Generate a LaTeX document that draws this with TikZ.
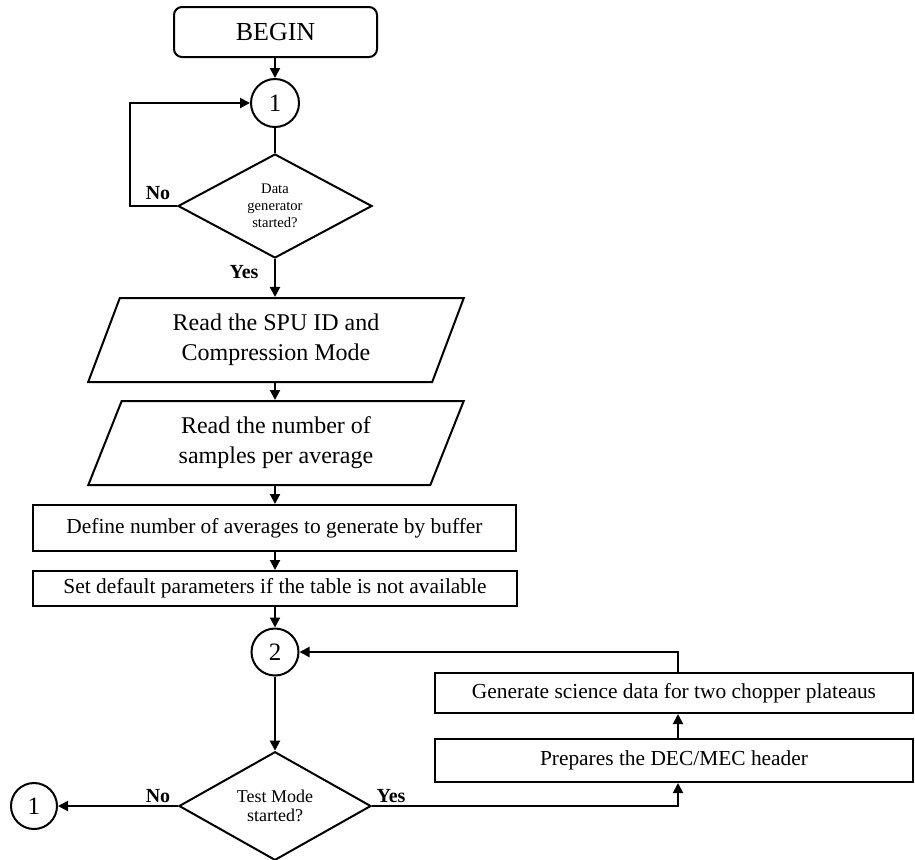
\documentclass[tikz,border=0pt]{standalone}
\usepackage{fontspec}
\setmainfont{Liberation Serif}
\usetikzlibrary{shapes.geometric,arrows.meta,calc}
\begin{document}
\begin{tikzpicture}[x=0.5pt,y=-0.5pt, line width=1pt,
  >={Triangle[length=5pt,width=5pt]},
  procbox/.style={draw, rectangle, inner sep=0pt, align=center, font=\fontsize{10.7}{13}\selectfont},
  iobox/.style={draw, trapezium, trapezium left angle=68, trapezium right angle=112, trapezium stretches=true,
     minimum width=188pt, minimum height=42pt, inner sep=0pt, align=center, font=\fontsize{12}{15}\selectfont},
  decision/.style={draw, diamond, inner sep=0pt, align=center},
  conn/.style={draw, circle, inner sep=0pt, font=\fontsize{12.5}{14}\selectfont},
  lbl/.style={font=\fontsize{10}{12}\selectfont\bfseries},
]
\useasboundingbox (0,0) rectangle (915,859);

\node[draw, rounded corners=4pt, minimum width=101.5pt, minimum height=25pt, inner sep=0pt,
      font=\fontsize{13}{15}\selectfont] (begin) at (275.5,32) {BEGIN};
\node[conn, minimum size=24pt] (c1) at (275,103) {1};
\node[decision, minimum width=97pt, minimum height=52pt, font=\fontsize{7.3}{8.4}\selectfont] (d1) at (275,206) {Data\\generator\\started?};
\node[iobox] (p1) at (276,340) {Read the SPU ID and\\Compression Mode};
\node[iobox] (p2) at (276,443) {Read the number of\\samples per average};
\node[procbox, minimum width=241.5pt, minimum height=23pt] (def) at (274.5,528) {Define number of averages to generate by buffer};
\node[procbox, minimum width=242pt, minimum height=17.5pt] (set) at (275,588.5) {Set default parameters if the table is not available};
\node[conn, minimum size=23.5pt] (c2) at (275,652) {2};
\node[decision, minimum width=96pt, minimum height=53pt, font=\fontsize{9}{9.8}\selectfont] (d2) at (275,806) {Test Mode\\started?};
\node[conn, minimum size=23pt] (c1b) at (34,806) {1};
\node[procbox, minimum width=239pt, minimum height=20pt] (gen) at (674,693) {Generate science data for two chopper plateaus};
\node[procbox, minimum width=239pt, minimum height=21.5pt] (prep) at (674,760.5) {Prepares the DEC/MEC header};

\coordinate (loopL) at (130,206);
\coordinate (cx) at (678,806);
\coordinate (ctop) at (678,652);

\draw[->] (begin.south -| c1) -- (c1.north);
\draw (c1) -- (d1.north);
\draw (d1.west) -- (loopL) -- (loopL |- c1) [->] -- (c1.west);
\draw[->] (d1.south) -- (d1.south |- p1.north);
\draw[->] (p1.south -| d1) -- (p2.north -| d1);
\draw[->] (p2.south -| d1) -- (def.north -| d1);
\draw[->] (def.south -| d1) -- (set.north -| d1);
\draw[->] (set.south -| c2) -- (c2.north);
\draw[->] (c2) -- (d2.north);
\draw[->] (d2.west) -- (c1b.east);
\draw[->] (d2.east) -- (cx) -- (cx |- prep.south);
\draw[->] (cx |- prep.north) -- (cx |- gen.south);
\draw[->] (cx |- gen.north) -- (ctop) -- (c2.east);

\node[lbl] at (158,193) {No};
\node[lbl] at (244,272) {Yes};
\node[lbl] at (158,796) {No};
\node[lbl] at (391,796) {Yes};
\end{tikzpicture}
\end{document}
